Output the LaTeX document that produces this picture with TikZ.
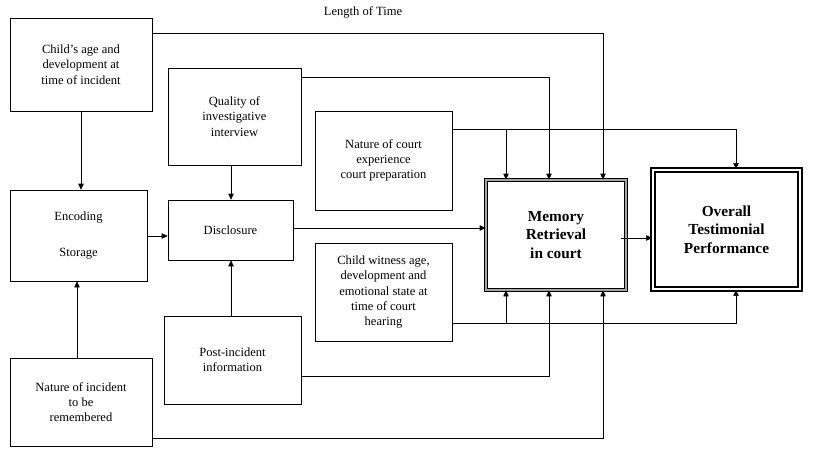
\documentclass[tikz,border=0pt]{standalone}
\usepackage{fontspec}
\setmainfont{Liberation Serif}
\usetikzlibrary{arrows.meta}

\begin{document}
\begin{tikzpicture}[x=0.75pt,y=-0.75pt,
    box/.style={draw, thin, minimum width=#1*0.75pt, align=center, inner sep=0pt,
        font=\fontsize{9.4}{11.5}\selectfont},
    line/.style={-{Triangle[length=4.5pt,width=4pt]}, thin},
    plain/.style={thin}]
    \useasboundingbox (0,0) rectangle (816,457);

    % Left column
    \node[box=142, minimum height=93*0.75pt] (child) at (81,64.5) {Child's age and\\development at\\time of incident};
    \node[box=137, minimum height=91*0.75pt] (encode) at (78.5,235.5) {Encoding\\[16pt]Storage};
    \node[box=142, minimum height=88*0.75pt] (incident) at (81,402) {Nature of incident\\to be\\remembered};

    % Middle column
    \node[box=133, minimum height=97*0.75pt] (quality) at (234.5,116.5) {Quality of\\investigative\\interview};
    \node[box=125, minimum height=60*0.75pt] (disclose) at (230.5,230) {Disclosure};
    \node[box=137, minimum height=88*0.75pt] (post) at (232.5,360) {Post-incident\\information};

    % Court factors
    \node[box=137, minimum height=99*0.75pt] (court) at (383.5,160.5) {Nature of court\\experience\\court preparation};
    \node[box=137, minimum height=98*0.75pt] (witness) at (383.5,292) {Child witness age,\\development and\\emotional state at\\time of court\\hearing};

    % Outcomes
    \node[box=140, minimum height=110*0.75pt, double=gray!70, double distance=2pt,
        font=\fontsize{11.5}{14}\selectfont\bfseries] (memory) at (556,235) {Memory\\Retrieval\\in court};
    \node[box=147, minimum height=119*0.75pt, line width=1.2pt, double=white, double distance=1.8pt,
        font=\fontsize{11.5}{14}\selectfont\bfseries] (overall) at (726.5,229.5) {Overall\\Testimonial\\Performance};

    % Connectors
    \draw[line] (child.south -| 81,0) -- (encode.north -| 81,0);
    \draw[line] (incident.north -| 77,0) -- (encode.south -| 77,0);
    \draw[line] (encode.east |- 0,236) -- (disclose.west |- 0,236);
    \draw[line] (quality.south -| 231,0) -- (disclose.north -| 231,0);
    \draw[line] (post.north -| 231,0) -- (disclose.south -| 231,0);
    \draw[line] (disclose.east |- 0,228) -- (memory.west |- 0,228);
    \draw[line] ([xshift=-4pt]memory.east |- 0,238) -- (overall.west |- 0,238);

    \draw[line] (child.east |- 0,33) -- (603,33) -- (memory.north -| 603,0);
    \node[font=\fontsize{9.4}{11.5}\selectfont] (time) at (363,12) {Length of Time};
    \draw[line] (quality.east |- 0,77) -- (549,77) -- (memory.north -| 549,0);
    \draw[line] (court.east |- 0,129) -- (736,129) -- (overall.north -| 736,0);
    \draw[line] (506,129) -- (memory.north -| 506,0);

    \draw[line] (witness.east |- 0,323) -- (736,323) -- (overall.south -| 736,0);
    \draw[line] (506,323) -- (memory.south -| 506,0);
    \draw[line] (post.east |- 0,376) -- (549,376) -- (memory.south -| 549,0);
    \draw[line] (incident.east |- 0,438) -- (603,438) -- (memory.south -| 603,0);
\end{tikzpicture}
\end{document}
